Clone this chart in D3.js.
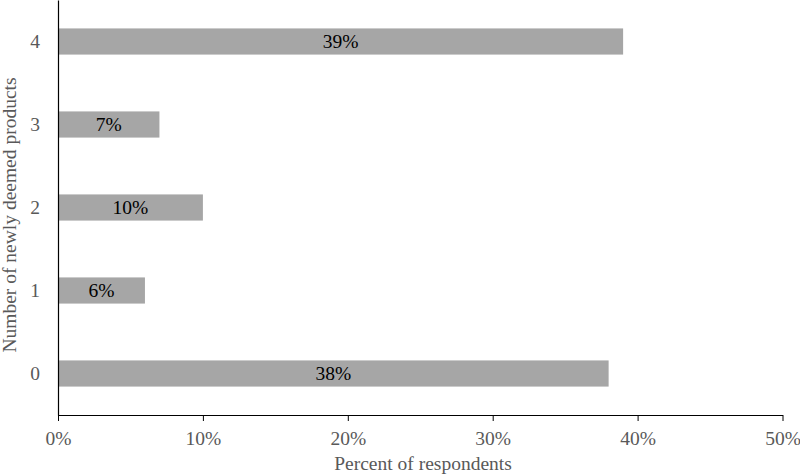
<!DOCTYPE html>
<html>
<head>
<meta charset="utf-8">
<script src="https://cdn.jsdelivr.net/npm/d3@7"></script>
<style>
  body { margin: 0; background: #fff; }
  text { font-family: "Liberation Serif", "Times New Roman", serif; }
</style>
</head>
<body>
<svg id="chart" width="800" height="475"></svg>
<script>
// Data
const categories = ["4", "3", "2", "1", "0"];
const percents = [39, 7, 10, 6, 38];
const xTicks = [0, 10, 20, 30, 40, 50];

const width = 800, height = 475;
const fontSize = "19.5px";
const svg = d3.select("#chart");

const x = d3.scaleLinear().domain([0, 50]).range([58, 782.5]);
const y = d3.scaleBand().domain(categories).range([0, 415]).paddingInner(0.685).paddingOuter(0.3425);

// bars
svg.selectAll("rect.bar")
    .data(categories)
    .enter().append("rect")
    .attr("class", "bar")
    .attr("x", x(0))
    .attr("y", d => y(d))
    .attr("width", (d, i) => x(percents[i]) - x(0))
    .attr("height", y.bandwidth())
    .attr("fill", "#a6a6a6");

// value labels centred in bars
svg.selectAll("text.val")
    .data(categories)
    .enter().append("text")
    .attr("class", "val")
    .attr("x", (d, i) => (x(0) + x(percents[i])) / 2)
    .attr("y", d => y(d) + y.bandwidth() / 2)
    .attr("dy", "0.35em")
    .attr("text-anchor", "middle")
    .attr("font-size", fontSize)
    .attr("fill", "#000")
    .text((d, i) => percents[i] + "%");

// x axis
const xAxis = svg.append("g")
    .attr("transform", "translate(0,415)")
    .call(d3.axisBottom(x).tickValues(xTicks).tickFormat(d => d + "%").tickSize(6).tickSizeOuter(0));
xAxis.select(".domain").attr("stroke", "#000").attr("stroke-width", 1.2);
xAxis.selectAll(".tick line").attr("stroke", "#000");
xAxis.selectAll(".tick text")
    .attr("font-size", fontSize)
    .attr("fill", "#595959")
    .attr("font-family", "Liberation Serif, serif")
    .attr("dy", "0")
    .attr("y", 30);

// y axis
const yAxis = svg.append("g")
    .attr("transform", "translate(" + x(0) + ",0)")
    .call(d3.axisLeft(y).tickSize(0).tickSizeOuter(0));
yAxis.select(".domain").attr("stroke", "#000").attr("stroke-width", 1.2);
yAxis.selectAll(".tick text")
    .attr("font-size", fontSize)
    .attr("fill", "#595959")
    .attr("font-family", "Liberation Serif, serif")
    .attr("x", -18);

// axis titles
svg.append("text")
    .attr("x", 423)
    .attr("y", 470)
    .attr("text-anchor", "middle")
    .attr("font-size", fontSize)
    .attr("fill", "#595959")
    .text("Percent of respondents");

svg.append("text")
    .attr("transform", "translate(16,215) rotate(-90)")
    .attr("text-anchor", "middle")
    .attr("font-size", fontSize)
    .attr("fill", "#595959")
    .text("Number of newly deemed products");
</script>
</body>
</html>
